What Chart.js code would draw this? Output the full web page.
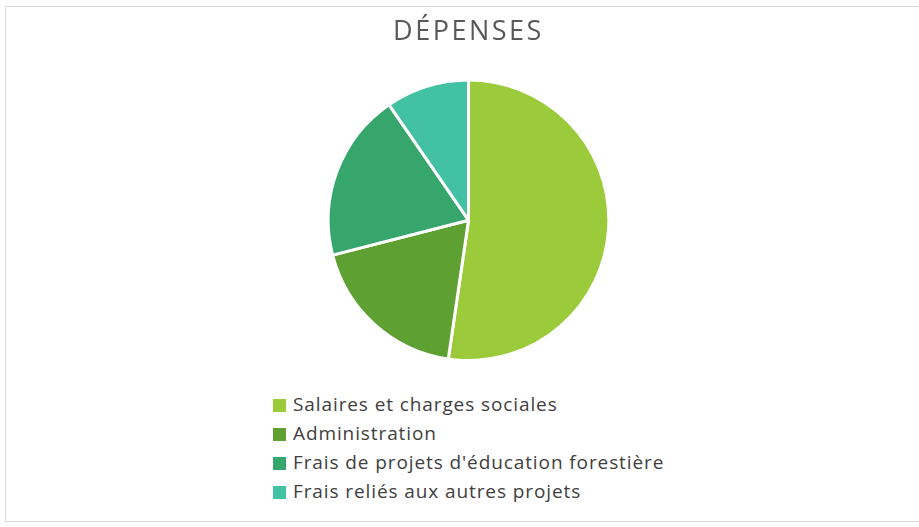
<!DOCTYPE html>
<html>
<head>
<meta charset="utf-8">
<script src="https://cdn.jsdelivr.net/npm/chart.js@4"></script>
<style>
  body { margin: 0; background: #fff; }
  #wrap { position: relative; width: 919px; height: 527px; overflow: hidden; }
  #frame { position: absolute; left: 5px; top: 6px; width: 930px; height: 514px; border: 1px solid #d9d9d9; }
  #chart-box { position: absolute; left: 0; top: 0; width: 919px; height: 370px; }
  #legend { position: absolute; left: 273px; top: 390px; font-family: "Open Sans", sans-serif; font-size: 19px; letter-spacing: 0.9px; color: #404040; }
  .item { height: 29px; line-height: 29px; white-space: nowrap; }
  .swatch { display: inline-block; width: 13px; height: 13px; margin-right: 7px; vertical-align: -1px; }
</style>
</head>
<body>
<div id="wrap">
  <div id="frame"></div>
  <div id="chart-box"><canvas id="depensesChart"></canvas></div>
  <div id="legend"></div>
</div>
<script>
// Données (pourcentages estimés à partir de l'image)
const categories = [
    'Salaires et charges sociales',
    'Administration',
    "Frais de projets d'éducation forestière",
    'Frais reliés aux autres projets'
];
const values = [52.3, 18.7, 19.4, 9.6];
const colors = ['#9bcb3b', '#5fa033', '#37a66c', '#43c1a3'];

// espacement des lettres du titre (le canvas ne l'hérite pas du CSS)
const letterSpacingPlugin = {
    id: 'titleSpacing',
    beforeDraw(chart) { chart.ctx.letterSpacing = '2.5px'; }
};

const ctx = document.getElementById('depensesChart').getContext('2d');
const chart = new Chart(ctx, {
    type: 'pie',
    data: {
        labels: categories,
        datasets: [{
            data: values,
            backgroundColor: colors,
            borderColor: '#ffffff',
            borderWidth: 3
        }]
    },
    options: {
        responsive: true,
        maintainAspectRatio: false,
        animation: false,
        layout: { padding: { top: 0, bottom: 8, left: 18 } },
        plugins: {
            legend: { display: false },
            tooltip: { enabled: false },
            title: {
                display: true,
                text: 'DÉPENSES',
                color: '#595959',
                font: { family: '"Open Sans", sans-serif', size: 27, weight: 'normal' },
                padding: { top: 16, bottom: 30 }
            }
        }
    },
    plugins: [letterSpacingPlugin]
});

// Légende verticale construite à partir des mêmes tableaux
const legendEl = document.getElementById('legend');
categories.forEach((label, i) => {
    const row = document.createElement('div');
    row.className = 'item';
    const sw = document.createElement('span');
    sw.className = 'swatch';
    sw.style.background = colors[i];
    row.appendChild(sw);
    row.appendChild(document.createTextNode(label));
    legendEl.appendChild(row);
});
</script>
</body>
</html>
